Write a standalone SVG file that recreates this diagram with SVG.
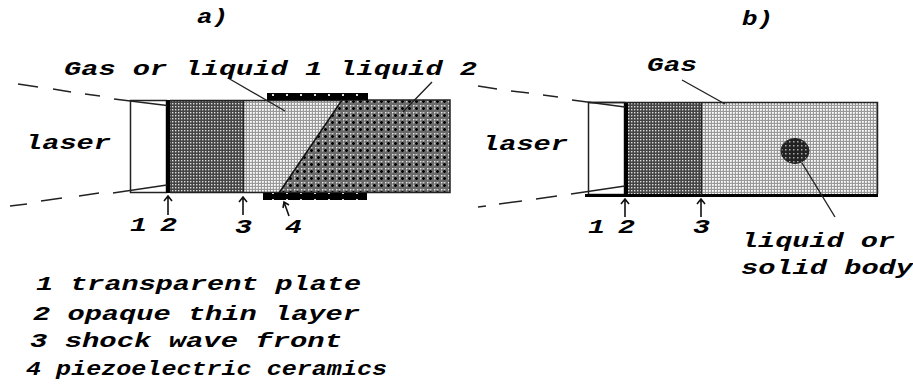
<svg xmlns="http://www.w3.org/2000/svg" width="913" height="386" viewBox="0 0 913 386">
<style>
text{font-family:"Liberation Mono","DejaVu Sans Mono",monospace;font-style:italic;font-weight:bold;font-size:20px;fill:#000}
.l{fill:none;stroke:#222;stroke-width:1.4}
.a{fill:none;stroke:#111;stroke-width:1.6}
</style>
<defs>
<pattern id="dark" width="3" height="3" patternUnits="userSpaceOnUse"><rect width="3" height="3" fill="#444"/><rect x="1" y="1" width="1.400" height="1.400" fill="#ddd"/></pattern>
<pattern id="light" width="3" height="3" patternUnits="userSpaceOnUse"><rect width="3" height="3" fill="#999"/><rect x="1" y="1" width="1.800" height="1.800" fill="#fff"/></pattern>
<pattern id="liq2" width="7" height="7" patternUnits="userSpaceOnUse"><rect width="7" height="7" fill="#6a6a6a"/><circle cx="0.500" cy="0.500" r="1" fill="#eee"/><circle cx="3.500" cy="0.500" r="1" fill="#ccc"/><circle cx="0.500" cy="3.500" r="1" fill="#ccc"/><path d="M3.500 2V5M2 3.500H5" stroke="#000" stroke-width="1.300"/></pattern>
<pattern id="piezo" width="14" height="7" patternUnits="userSpaceOnUse"><rect width="14" height="7" fill="#000"/><rect x="6" y="3" width="2" height="2" fill="#ddd"/></pattern>
<pattern id="body" width="4" height="4" patternUnits="userSpaceOnUse"><rect width="4" height="4" fill="#222"/><rect x="1" y="1" width="1.500" height="1.500" fill="#aaa"/></pattern>
</defs>
<g id="panel-a">
<g id="a-title"><text x="197" y="23" textLength="31" lengthAdjust="spacingAndGlyphs">a)</text></g>
<g id="a-plate"><rect x="130.500" y="100.500" width="36" height="92" fill="#fff" stroke="#222" stroke-width="1.500"/></g>
<g id="a-layer"><rect x="166" y="100" width="4" height="93" fill="#000"/></g>
<g id="a-gas-dark"><rect x="170" y="100" width="74" height="93" fill="url(#dark)"/></g>
<g id="a-light"><path d="M244 100H342L279 193H244Z" fill="url(#light)"/></g>
<g id="a-liquid2"><path d="M342 100H450V192H279Z" fill="url(#liq2)" stroke="none"/><path d="M342 100H450V192.500H279" fill="none" stroke="#222" stroke-width="1.500"/><path d="M342 100L279 193" fill="none" stroke="#111" stroke-width="1.500"/></g>
<path d="M170 100.500H342M170 192.500H279M243.500 100V193" fill="none" stroke="#222" stroke-width="1.500"/>
<g id="a-piezo-top"><rect x="267" y="93" width="101" height="7" fill="url(#piezo)"/></g>
<g id="a-piezo-bottom"><rect x="263" y="193" width="104" height="7" fill="url(#piezo)"/></g>
</g>
<g id="panel-b">
<g id="b-title"><text x="742" y="25" textLength="31" lengthAdjust="spacingAndGlyphs">b)</text></g>
<g id="b-plate"><rect x="588.500" y="102.500" width="36" height="92" fill="#fff" stroke="#222" stroke-width="1.500"/></g>
<g id="b-layer"><rect x="624" y="102" width="4" height="93" fill="#000"/></g>
<g id="b-gas-dark"><rect x="628" y="102" width="73" height="93" fill="url(#dark)"/></g>
<g id="b-gas"><rect x="701" y="102" width="176" height="93" fill="url(#light)"/><path d="M588 102.500H877.500V194" fill="none" stroke="#222" stroke-width="1.500"/><path d="M585 195.500H878" fill="none" stroke="#000" stroke-width="3"/><path d="M701.500 102V195" fill="none" stroke="#222" stroke-width="1.500"/></g>
<g id="b-body"><ellipse cx="795" cy="151" rx="14" ry="12.500" fill="url(#body)" stroke="#222"/></g>
</g>
<g id="connectors">
<path class="l" d="M18 84L38 87M53 89L71 92M85 94L100 96M114 99L167 105.500"/>
<path class="l" d="M10 206L27 204M41 201L62 198M79 196L99 193M113 193L167 185"/>
<path class="l" d="M478 86L497 89M511 91L529 93M543 95L558 97M572 100L625 107"/>
<path class="l" d="M478 207L486 206M499 204L522 201M536 199L557 196M571 194L625 186"/>
<path class="l" d="M228 78L285 111M432 82L403 112M682 80L725 104M802 163L835 217"/>
<path class="a" d="M168 196V215M164 201L168 196L172 201"/>
<path class="a" d="M243 197V215M239 202L243 197L247 202"/>
<path class="a" d="M284 202L289 216M283 208L284 202L289 205"/>
<path class="a" d="M625 199V217M621 204L625 199L629 204"/>
<path class="a" d="M701 199V217M697 204L701 199L705 204"/>
</g>
<g id="labels">
<text x="64" y="75" textLength="413" lengthAdjust="spacingAndGlyphs">Gas or liquid 1 liquid 2</text>
<text x="25" y="149" textLength="86" lengthAdjust="spacingAndGlyphs">laser</text>
<text x="482" y="150" textLength="86" lengthAdjust="spacingAndGlyphs">laser</text>
<text x="647" y="71" textLength="50" lengthAdjust="spacingAndGlyphs">Gas</text>
<text x="130" y="231" textLength="17" lengthAdjust="spacingAndGlyphs">1</text>
<text x="160" y="231" textLength="17" lengthAdjust="spacingAndGlyphs">2</text>
<text x="235" y="233" textLength="17" lengthAdjust="spacingAndGlyphs">3</text>
<text x="285" y="233" textLength="17" lengthAdjust="spacingAndGlyphs">4</text>
<text x="588" y="233" textLength="17" lengthAdjust="spacingAndGlyphs">1</text>
<text x="618" y="233" textLength="17" lengthAdjust="spacingAndGlyphs">2</text>
<text x="693" y="233" textLength="17" lengthAdjust="spacingAndGlyphs">3</text>
<text x="741" y="247" textLength="154" lengthAdjust="spacingAndGlyphs">liquid or</text>
<text x="741" y="274" textLength="172" lengthAdjust="spacingAndGlyphs">solid body</text>
<text x="36" y="290" textLength="325" lengthAdjust="spacingAndGlyphs">1 transparent plate</text>
<text x="33" y="320" textLength="327" lengthAdjust="spacingAndGlyphs">2 opaque thin layer</text>
<text x="30" y="347" textLength="312" lengthAdjust="spacingAndGlyphs">3 shock wave front</text>
<text x="26" y="375" textLength="361" lengthAdjust="spacingAndGlyphs">4 piezoelectric ceramics</text>
</g>
</svg>
